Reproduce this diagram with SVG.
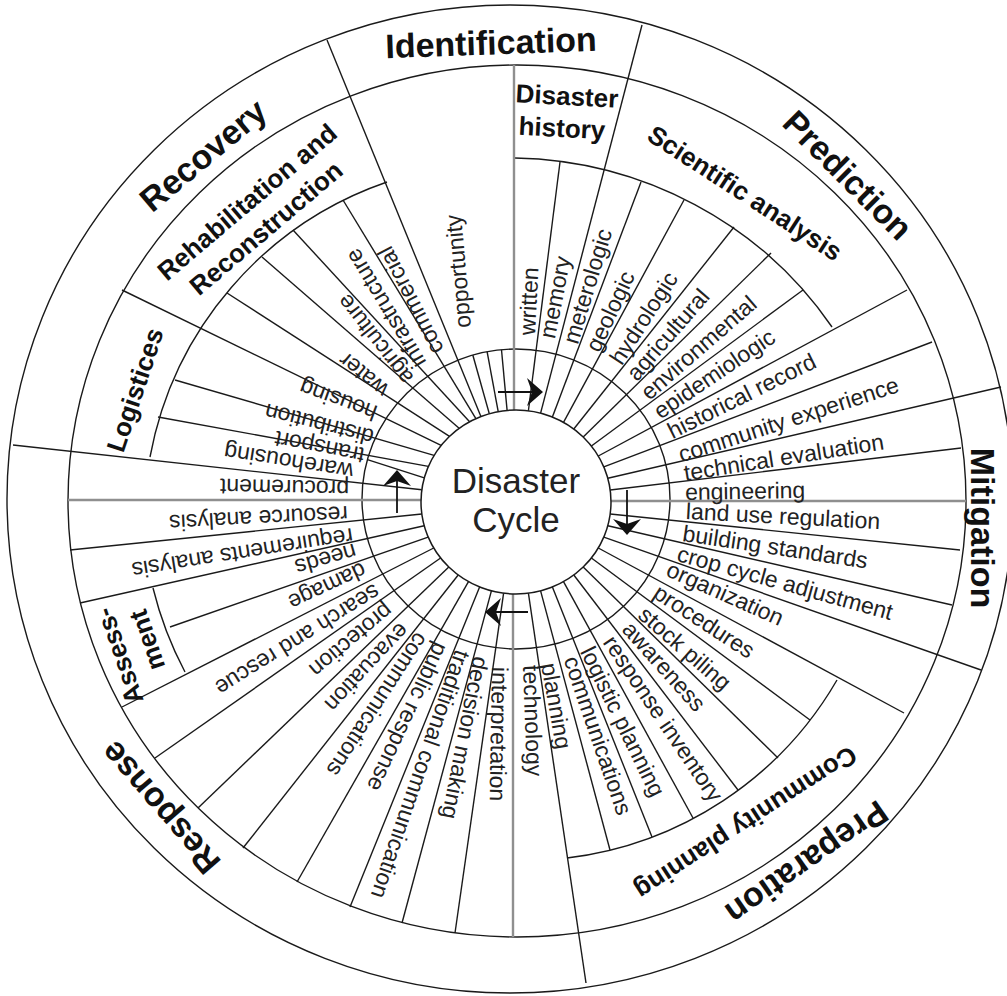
<svg xmlns="http://www.w3.org/2000/svg" width="1007" height="996" viewBox="0 0 1007 996">
<style>
.ln{stroke:#1a1a1a;stroke-width:1.4;fill:none}
.ax{stroke:#8f8f8f;stroke-width:2.4;fill:none}
.it{font-family:"Liberation Sans",Arial,sans-serif;font-size:23px;fill:#222;dominant-baseline:central}
.cat{font-family:"Liberation Sans",Arial,sans-serif;font-size:34px;font-weight:bold;fill:#111;dominant-baseline:central;text-anchor:middle}
.sub{font-family:"Liberation Sans",Arial,sans-serif;font-size:26px;font-weight:bold;fill:#111;dominant-baseline:central;text-anchor:middle}
.ctr{font-family:"Liberation Sans",Arial,sans-serif;font-size:35px;fill:#222;text-anchor:middle}
</style>
<defs>
<marker id="ah" viewBox="0 0 16 28" refX="14" refY="14" markerWidth="16" markerHeight="28" markerUnits="userSpaceOnUse" orient="auto"><path d="M0,0 L16,14 L0,28 L5,14 Z" fill="#111"/></marker>
</defs>
<rect width="1007" height="996" fill="#fff"/>
<g id="rings" class="ln">
<ellipse cx="510" cy="499" rx="503" ry="494"/>
<ellipse cx="517" cy="501" rx="449" ry="436"/>
<ellipse cx="516" cy="499" rx="154" ry="150"/>
<path d="M515,158 A390,380 0 0 1 832,327"/>
<path d="M387,182 A360,360 0 0 0 150,457"/>
<path d="M837,680 A362,362 0 0 1 567,858"/>
<path d="M153,588 A365,365 0 0 0 185,672"/>
</g>
<g id="axes" class="ax">
<line x1="514" y1="65" x2="514" y2="410"/>
<line x1="513" y1="594" x2="513" y2="937"/>
<line x1="68" y1="500" x2="421" y2="500"/>
<line x1="611" y1="501" x2="966" y2="501"/>
</g>
<g id="spokes" class="ln">
<line x1="528.4" y1="410.8" x2="560" y2="162"/>
<line x1="540.6" y1="413.1" x2="642" y2="25"/>
<line x1="552.4" y1="417" x2="641" y2="182"/>
<line x1="563.5" y1="422.3" x2="684" y2="200"/>
<line x1="573.8" y1="429" x2="734" y2="227"/>
<line x1="583.2" y1="437" x2="771" y2="253"/>
<line x1="591.4" y1="446" x2="803" y2="290"/>
<line x1="598.3" y1="456" x2="907" y2="290"/>
<line x1="603.8" y1="466.8" x2="932" y2="342"/>
<line x1="607.8" y1="478.2" x2="1001" y2="387"/>
<line x1="610.2" y1="490" x2="961" y2="448"/>
<line x1="610.2" y1="514" x2="960" y2="550"/>
<line x1="607.8" y1="525.8" x2="952" y2="605"/>
<line x1="603.8" y1="537.2" x2="981" y2="670"/>
<line x1="598.3" y1="548" x2="904" y2="713"/>
<line x1="591.4" y1="558" x2="810" y2="720"/>
<line x1="583.2" y1="567" x2="778" y2="758"/>
<line x1="573.8" y1="575" x2="738" y2="790"/>
<line x1="563.5" y1="581.7" x2="693" y2="818"/>
<line x1="552.4" y1="587" x2="652" y2="837"/>
<line x1="540.6" y1="590.9" x2="610" y2="850"/>
<line x1="528.4" y1="593.2" x2="586" y2="983"/>
<line x1="503.6" y1="593.2" x2="455" y2="933"/>
<line x1="491.4" y1="590.9" x2="402" y2="923"/>
<line x1="479.6" y1="587" x2="350" y2="907"/>
<line x1="468.5" y1="581.7" x2="297" y2="882"/>
<line x1="458.2" y1="575" x2="243" y2="848"/>
<line x1="448.8" y1="567" x2="198" y2="808"/>
<line x1="440.6" y1="558" x2="155" y2="758"/>
<line x1="433.7" y1="548" x2="122" y2="707"/>
<line x1="428.2" y1="537.2" x2="170" y2="627"/>
<line x1="424.2" y1="525.8" x2="80" y2="603"/>
<line x1="421.8" y1="514" x2="70" y2="550"/>
<line x1="421.8" y1="489.8" x2="13" y2="445"/>
<line x1="424.3" y1="477.9" x2="367.4" y2="459.7"/>
<line x1="428.4" y1="466.4" x2="158" y2="417"/>
<line x1="434.1" y1="455.4" x2="175" y2="380"/>
<line x1="441.1" y1="445.4" x2="122" y2="290"/>
<line x1="449.5" y1="436.3" x2="227" y2="293"/>
<line x1="459.1" y1="428.3" x2="262" y2="257"/>
<line x1="469.6" y1="421.7" x2="293" y2="230"/>
<line x1="475.9" y1="418.6" x2="343" y2="200"/>
<line x1="480.9" y1="416.5" x2="327" y2="40"/>
<line x1="489.3" y1="413.7" x2="472.8" y2="355"/>
<line x1="498.2" y1="411.6" x2="487.1" y2="351.7"/>
<line x1="507.1" y1="410.4" x2="501.5" y2="349.7"/>
</g>
<g id="center">
<ellipse cx="516" cy="502" rx="95" ry="92" fill="#fff" stroke="#1a1a1a" stroke-width="1.5"/>
<text class="ctr" x="516" y="493">Disaster</text>
<text class="ctr" x="516" y="532">Cycle</text>
</g>
<g id="connectors" stroke="#111" stroke-width="1.8" fill="none">
<path d="M498,392 H541" marker-end="url(#ah)"/>
<path d="M627,490 V533" marker-end="url(#ah)"/>
<path d="M528,612 H487" marker-end="url(#ah)"/>
<path d="M397,513 V472" marker-end="url(#ah)"/>
</g>
<g id="identification">
<text class="cat" transform="translate(491,42.5) rotate(-2)">Identification</text>
<text class="sub" transform="translate(567,96) rotate(3)">Disaster</text>
<text class="sub" transform="translate(562,128) rotate(3)">history</text>
<text class="it" transform="translate(527,335) rotate(-87)">written</text>
<text class="it" transform="translate(547,338) rotate(-79)">memory</text>
<text class="it" transform="translate(463,328) rotate(-95)">opportunity</text>
</g>
<g id="prediction">
<text class="cat" transform="translate(848,175) rotate(45)">Prediction</text>
<text class="sub" transform="translate(745,193) rotate(33)">Scientific analysis</text>
<text class="it" transform="translate(570,343) rotate(-73)">meterologic</text>
<text class="it" transform="translate(592,350) rotate(-65)">geologic</text>
<text class="it" transform="translate(615,362) rotate(-57)">hydrologic</text>
<text class="it" transform="translate(631,377) rotate(-49)">agricultural</text>
<text class="it" transform="translate(644,395) rotate(-41)">environmental</text>
<text class="it" transform="translate(656,413) rotate(-34)">epidemiologic</text>
<text class="it" transform="translate(669,432) rotate(-26.5)">historical record</text>
<text class="it" transform="translate(679,455) rotate(-18)">community experience</text>
</g>
<g id="mitigation">
<text class="cat" transform="translate(983,528) rotate(90)">Mitigation</text>
<text class="it" transform="translate(684,473) rotate(-9)">technical evaluation</text>
<text class="it" transform="translate(685,492) rotate(-1)">engineering</text>
<text class="it" transform="translate(686,511) rotate(3)">land use regulation</text>
<text class="it" transform="translate(683,533) rotate(8.5)">building standards</text>
<text class="it" transform="translate(678,553) rotate(15.5)">crop cycle adjustment</text>
</g>
<g id="preparation">
<text class="cat" transform="translate(807,863) rotate(145)">Preparation</text>
<text class="sub" transform="translate(746,823) rotate(147)">Community planning</text>
<text class="it" transform="translate(668,568) rotate(24)">organization</text>
<text class="it" transform="translate(656,590) rotate(33)">procedures</text>
<text class="it" transform="translate(642,611) rotate(41)">stock piling</text>
<text class="it" transform="translate(627,625) rotate(48)">awareness</text>
<text class="it" transform="translate(609,638) rotate(56)">response inventory</text>
<text class="it" transform="translate(587,648) rotate(64)">logistic planning</text>
<text class="it" transform="translate(571,657) rotate(71)">communications</text>
<text class="it" transform="translate(549,663) rotate(80)">planning</text>
<text class="it" transform="translate(531,665) rotate(88)">technology</text>
</g>
<g id="response">
<text class="cat" transform="translate(160,808) rotate(229)">Response</text>
<text class="sub" transform="translate(119,656) rotate(251)">Assess-</text>
<text class="sub" transform="translate(147,640) rotate(251)">ment</text>
<text class="it" transform="translate(500,667) rotate(91)">interpretation</text>
<text class="it" transform="translate(481,657) rotate(101)">decision making</text>
<text class="it" transform="translate(463,651) rotate(109)">traditional communication</text>
<text class="it" transform="translate(442,644) rotate(115)">public response</text>
<text class="it" transform="translate(423,635) rotate(123)">communications</text>
<text class="it" transform="translate(405,627) rotate(133)">evacuation</text>
<text class="it" transform="translate(390,608) rotate(140)">protection</text>
<text class="it" transform="translate(378,590) rotate(148)">search and rescue</text>
<text class="it" transform="translate(365,569) rotate(155)">damage</text>
<text class="it" transform="translate(356,551) rotate(164)">needs</text>
<text class="it" transform="translate(353,536) rotate(171)">requirements analysis</text>
<text class="it" transform="translate(348,514) rotate(177)">resource analysis</text>
</g>
<g id="recovery">
<text class="cat" transform="translate(203,155) rotate(-40)">Recovery</text>
<text class="sub" transform="translate(247,202) rotate(-40.3)">Rehabilitation and</text>
<text class="sub" transform="translate(266,228) rotate(-40.3)">Reconstruction</text>
<text class="sub" transform="translate(135,390) rotate(-71.6)">Logistices</text>
<text class="it" transform="translate(349,489) rotate(181)">procurement</text>
<text class="it" transform="translate(353,472) rotate(189)">warehousing</text>
<text class="it" transform="translate(364,456) rotate(191)">transport</text>
<text class="it" transform="translate(373,438) rotate(194)">distribution</text>
<text class="it" transform="translate(376,414) rotate(200)">housing</text>
<text class="it" transform="translate(385,393) rotate(219.5)">water</text>
<text class="it" transform="translate(408,382) rotate(232)">agriculture</text>
<text class="it" transform="translate(420,366) rotate(239)">infrastructure</text>
<text class="it" transform="translate(437,353) rotate(243)">commercial</text>
</g>
</svg>
